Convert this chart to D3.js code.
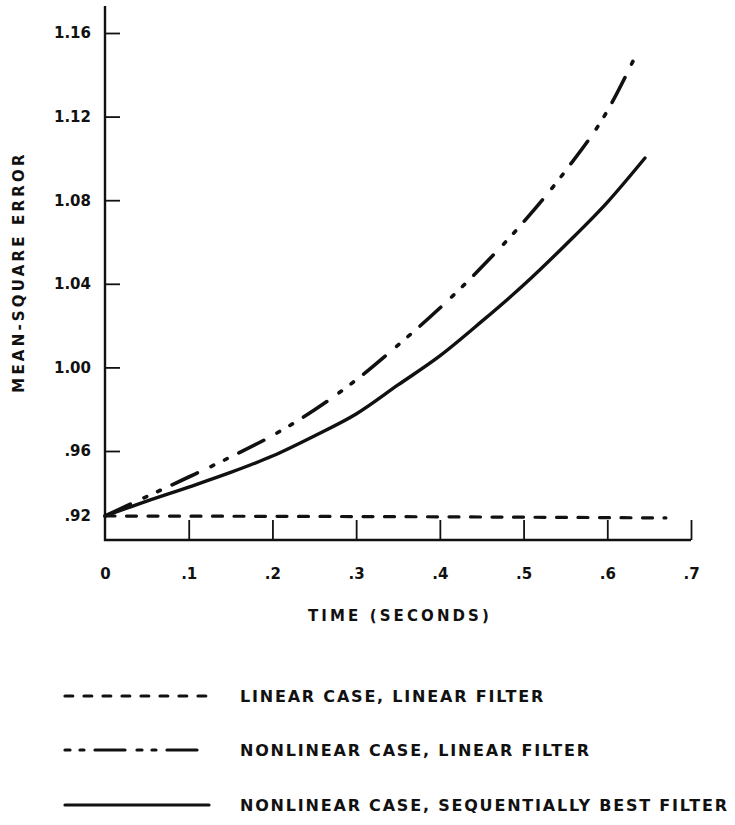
<!DOCTYPE html>
<html>
<head>
<meta charset="utf-8">
<script src="https://cdn.jsdelivr.net/npm/d3@7"></script>
<style>
  body { margin: 0; background: #fff; }
  svg { display: block; }
  text { font-family: "DejaVu Sans", sans-serif; font-weight: bold; fill: #111; }
  .axis text { font-size: 15px; }
</style>
</head>
<body>
<script>
// values (time in seconds, mean-square error)
var linearLinear = [[0, 0.920], [0.2, 0.9198], [0.4, 0.9195], [0.67, 0.9188]];
var nonlinLinear = [[0, 0.920], [0.05, 0.932], [0.1, 0.944], [0.15, 0.9563], [0.2, 0.9674], [0.25, 0.9796],
  [0.3, 0.9940], [0.35, 1.0107], [0.4, 1.0284], [0.45, 1.0480], [0.5, 1.0696], [0.55, 1.0940],
  [0.6, 1.1227], [0.636, 1.1509]];
var nonlinBest = [[0, 0.920], [0.05, 0.9292], [0.1, 0.9378], [0.15, 0.9468], [0.2, 0.9569], [0.25, 0.9672],
  [0.3, 0.9777], [0.35, 0.9916], [0.4, 1.0055], [0.45, 1.0220], [0.5, 1.0394], [0.55, 1.0586],
  [0.6, 1.0790], [0.645, 1.1002]];

var yTicks = [0.92, 0.96, 1.00, 1.04, 1.08, 1.12, 1.16];
var yTickLabels = [".92", ".96", "1.00", "1.04", "1.08", "1.12", "1.16"];
var xTicks = [0, 0.1, 0.2, 0.3, 0.4, 0.5, 0.6, 0.7];
var xTickLabels = ["0", ".1", ".2", ".3", ".4", ".5", ".6", ".7"];

var legendLabels = [
  "LINEAR CASE, LINEAR FILTER",
  "NONLINEAR CASE, LINEAR FILTER",
  "NONLINEAR CASE, SEQUENTIALLY BEST FILTER"
];

var width = 735,
    height = 825;

var plotLeft = 105, plotRight = 691, plotBottom = 540, plotTop = 6;

var styles = [
  {dash: "10,11.5", width: 3.2},
  {dash: "28,15,3,12,3,13", width: 3.6},
  {dash: null, width: 3.4}
];

var svg = d3.select("body").append("svg")
    .attr("width", width)
    .attr("height", height);

var x = d3.scaleLinear().domain([0, 0.7]).range([plotLeft, plotRight]);
// the drawn scale is not uniform below .96
var y = d3.scaleLinear().domain([0.92, 0.96, 1.16]).range([516, 451, 33]);

// y axis
var yAxis = svg.append("g")
    .attr("class", "axis")
    .attr("transform", "translate(" + plotLeft + ",0)")
    .call(d3.axisLeft(y)
      .tickValues(yTicks)
      .tickSize(-15)
      .tickPadding(14)
      .tickFormat(function(d, i) { return yTickLabels[i]; }));
yAxis.select(".domain").remove();
yAxis.selectAll(".tick line")
    .attr("stroke", "#111")
    .attr("stroke-width", 1.8)
    .filter(function(d) { return d === 0.92; }).remove();
yAxis.selectAll(".tick text").attr("fill", "#111");

// x axis
var xAxis = svg.append("g")
    .attr("class", "axis")
    .attr("transform", "translate(0," + plotBottom + ")")
    .call(d3.axisBottom(x)
      .tickValues(xTicks)
      .tickSize(-20)
      .tickPadding(28)
      .tickFormat(function(d, i) { return xTickLabels[i]; }));
xAxis.select(".domain").remove();
xAxis.selectAll(".tick line")
    .attr("stroke", "#111")
    .attr("stroke-width", 1.8)
    .filter(function(d) { return d === 0; }).remove();
xAxis.selectAll(".tick text").attr("fill", "#111");

svg.append("path")
    .attr("d", "M" + plotLeft + "," + plotTop + "V" + plotBottom + "H" + plotRight)
    .attr("fill", "none")
    .attr("stroke", "#111")
    .attr("stroke-width", 2.4);

// axis titles
svg.append("text")
    .attr("x", (plotLeft + plotRight) / 2 + 2)
    .attr("y", 621)
    .attr("text-anchor", "middle")
    .style("font-size", "15px")
    .style("letter-spacing", "3.1px")
    .text("TIME (SECONDS)");

svg.append("text")
    .attr("transform", "translate(24,272) rotate(-90)")
    .attr("text-anchor", "middle")
    .style("font-size", "15px")
    .style("letter-spacing", "3.2px")
    .text("MEAN-SQUARE ERROR");

// curves
var line = d3.line()
    .x(function(d) { return x(d[0]); })
    .y(function(d) { return y(d[1]); })
    .curve(d3.curveMonotoneX);

var series = [linearLinear, nonlinLinear, nonlinBest];

svg.append("g")
  .selectAll("path")
    .data(series)
  .enter().append("path")
    .attr("d", line)
    .attr("fill", "none")
    .attr("stroke", "#111")
    .attr("stroke-linecap", "round")
    .attr("stroke-width", function(d, i) { return styles[i].width; })
    .attr("stroke-dasharray", function(d, i) { return styles[i].dash; });

// legend
var legendY = [696, 750, 805];
var legendDash = ["7.8,11.2", "5,10,4,11,30,12", null];

var legend = svg.append("g")
  .selectAll("g")
    .data(legendLabels)
  .enter().append("g")
    .attr("transform", function(d, i) { return "translate(0," + legendY[i] + ")"; });

legend.append("line")
    .attr("x1", 65)
    .attr("x2", 209)
    .attr("stroke", "#111")
    .attr("stroke-linecap", "round")
    .attr("stroke-width", 3.2)
    .attr("stroke-dasharray", function(d, i) { return legendDash[i]; });

legend.append("text")
    .attr("x", 240)
    .attr("y", 6)
    .style("font-size", "16px")
    .style("letter-spacing", "1.8px")
    .text(function(d) { return d; });
</script>
</body>
</html>
